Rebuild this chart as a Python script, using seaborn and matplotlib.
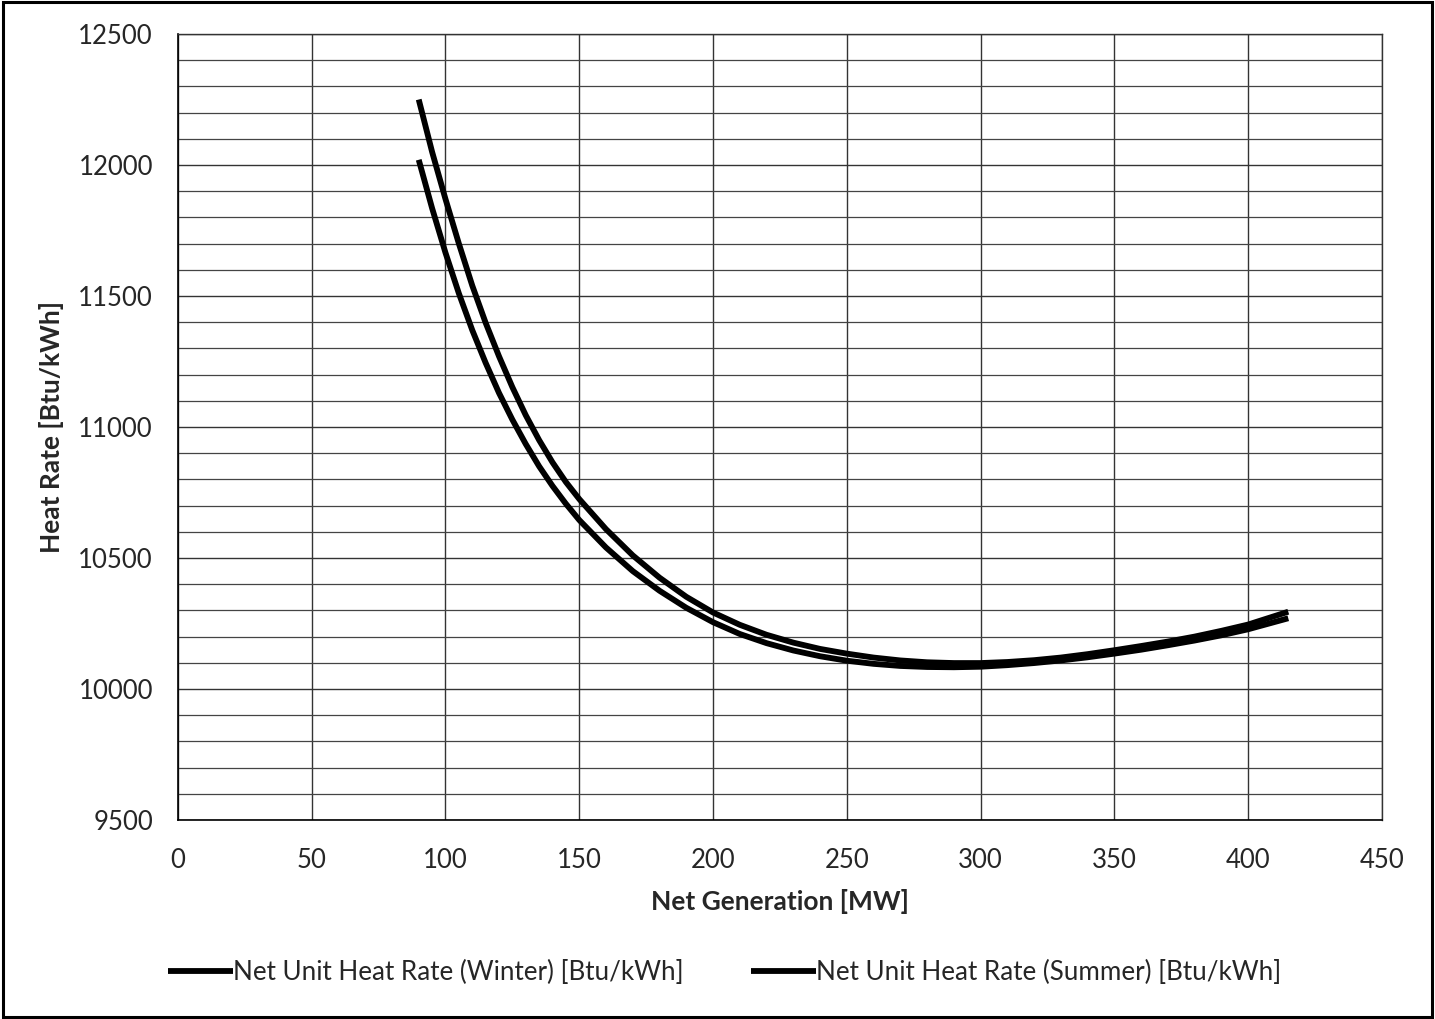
import matplotlib
matplotlib.use("Agg")
import matplotlib.pyplot as plt
from matplotlib.patches import Rectangle
from matplotlib.ticker import MultipleLocator
import numpy as np
import pandas as pd
import seaborn as sns

# Net generation [MW]
net_mw = [90, 95, 100, 105, 110, 115, 120, 125, 130, 135, 140, 145, 150, 160, 170,
          180, 190, 200, 210, 220, 230, 240, 250, 260, 270, 280, 290, 300, 310,
          320, 330, 340, 350, 360, 370, 380, 390, 400, 415]

# Net unit heat rate [Btu/kWh]
winter_hr = [12020, 11835, 11665, 11510, 11370, 11245, 11130, 11028, 10935, 10850,
             10775, 10707, 10645, 10540, 10450, 10375, 10310, 10255, 10210, 10175,
             10147, 10125, 10108, 10096, 10088, 10084, 10083, 10085, 10091, 10099,
             10109, 10121, 10135, 10150, 10167, 10185, 10205, 10228, 10270]
summer_hr = [12250, 12050, 11870, 11700, 11540, 11398, 11270, 11152, 11045, 10950,
             10865, 10790, 10725, 10610, 10510, 10425, 10352, 10292, 10245, 10207,
             10177, 10153, 10135, 10120, 10109, 10102, 10099, 10099, 10103, 10110,
             10120, 10133, 10148, 10164, 10181, 10200, 10222, 10246, 10295]

series_names = ["Net Unit Heat Rate (Winter) [Btu/kWh]",
                "Net Unit Heat Rate (Summer) [Btu/kWh]"]

df = pd.concat([
    pd.DataFrame({"mw": net_mw, "hr": winter_hr, "series": series_names[0]}),
    pd.DataFrame({"mw": net_mw, "hr": summer_hr, "series": series_names[1]}),
])

sns.set_theme(style="white")
plt.rcParams["font.family"] = ["Lato", "DejaVu Sans"]

fig = plt.figure(figsize=(14.35, 10.19), dpi=100)
ax = fig.add_axes([0.124, 0.1953, 0.839, 0.7713])

sns.lineplot(data=df, x="mw", y="hr", hue="series", hue_order=series_names,
             palette=["black", "black"], linewidth=4.2, sort=False,
             estimator=None, ax=ax, legend=True,
             solid_joinstyle="round", solid_capstyle="butt")

ax.set_xlim(0, 450)
ax.set_ylim(9500, 12500)
ax.xaxis.set_major_locator(MultipleLocator(50))
ax.yaxis.set_major_locator(MultipleLocator(500))
ax.yaxis.set_minor_locator(MultipleLocator(100))

ax.grid(True, which="major", axis="both", color="#333333", linewidth=1.0)
ax.grid(True, which="minor", axis="y", color="#444444", linewidth=0.9)
ax.set_axisbelow(True)

for side in ["top", "right"]:
    ax.spines[side].set_color("#333333")
    ax.spines[side].set_linewidth(1.0)
for side in ["left", "bottom"]:
    ax.spines[side].set_color("black")
    ax.spines[side].set_linewidth(1.2)

ax.tick_params(axis="both", which="major", direction="out", length=8, width=1,
               color="black", labelsize=18.5)
ax.tick_params(axis="y", which="minor", length=0)
ax.tick_params(axis="y", which="major", pad=10)
ax.tick_params(axis="x", which="major", pad=12)

ax.set_xlabel("Net Generation [MW]", fontsize=19, fontweight="bold", labelpad=12)
ax.set_ylabel("Heat Rate [Btu/kWh]", fontsize=19, fontweight="bold", labelpad=10)

handles, labels = ax.get_legend_handles_labels()
ax.get_legend().remove()
fig.legend(handles, labels, loc="center", bbox_to_anchor=(0.505, 0.046), ncol=2,
           frameon=False, fontsize=18.7, handlelength=2.5, handletextpad=0.0,
           columnspacing=2.6)

# Outer chart frame
fig.patches.append(Rectangle((0.002, 0.002), 0.996, 0.996, transform=fig.transFigure,
                             fill=False, edgecolor="black", linewidth=2.2))

fig.savefig("out.png", dpi=100, facecolor="white")
